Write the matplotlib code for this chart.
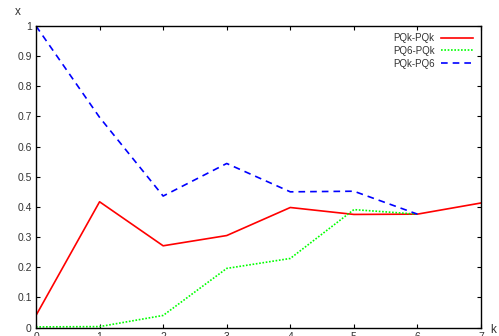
import numpy as np
import matplotlib
matplotlib.use("Agg")
import matplotlib.pyplot as plt

plt.rcParams['font.family'] = ['Liberation Sans', 'DejaVu Sans']

#data
k = [0, 1, 2, 3, 4, 5, 6, 7]
pqk_pqk = [0.04, 0.417, 0.271, 0.305, 0.398, 0.375, 0.376, 0.413]
pq6_pqk = [0.002, 0.003, 0.04, 0.196, 0.229, 0.391, 0.376]
pqk_pq6 = [1.0, 0.697, 0.436, 0.544, 0.450, 0.452, 0.376]

yticks = [0, 0.1, 0.2, 0.3, 0.4, 0.5, 0.6, 0.7, 0.8, 0.9, 1]
ylabels = ['0', '0.1', '0.2', '0.3', '0.4', '0.5', '0.6', '0.7', '0.8', '0.9', '1']

fig = plt.figure(figsize=(4.99, 3.36), dpi=100)
ax = fig.add_axes([36/499, 8.5/336, 445/499, 301.5/336])

ax.plot(k, pqk_pqk, color='#ff0000', lw=1.2, label='PQk-PQk')
ax.plot(k[:len(pq6_pqk)], pq6_pqk, color='#00ff00', lw=1.2, ls=(0, (1, 1)), label='PQ6-PQk')
ax.plot(k[:len(pqk_pq6)], pqk_pq6, color='#0000ff', lw=1.2, ls=(0, (4, 3)), label='PQk-PQ6')

ax.set_xlim(0, 7)
ax.set_ylim(0, 1)
ax.set_xticks(k)
ax.set_yticks(yticks)
ax.set_yticklabels(ylabels)
ax.tick_params(direction='in', length=3, width=0.8, top=True, right=True,
               labelsize=7.5, labelcolor='#333333', pad=3)
for s in ax.spines.values():
    s.set_linewidth(1.0)

fig.text(15/499, 1 - 12/336, 'x', fontsize=8.5, color='#333333', ha='left', va='center')
fig.text(490/499, 1 - 330/336, 'k', fontsize=8.5, color='#333333', ha='left', va='center')

ax.legend(loc='upper right', bbox_to_anchor=(0.99, 0.99), frameon=False, markerfirst=False,
          fontsize=7, handlelength=3.3, handletextpad=0.6, labelspacing=0.3,
          borderaxespad=0, labelcolor='#333333')

plt.savefig('out.png', dpi=100)
